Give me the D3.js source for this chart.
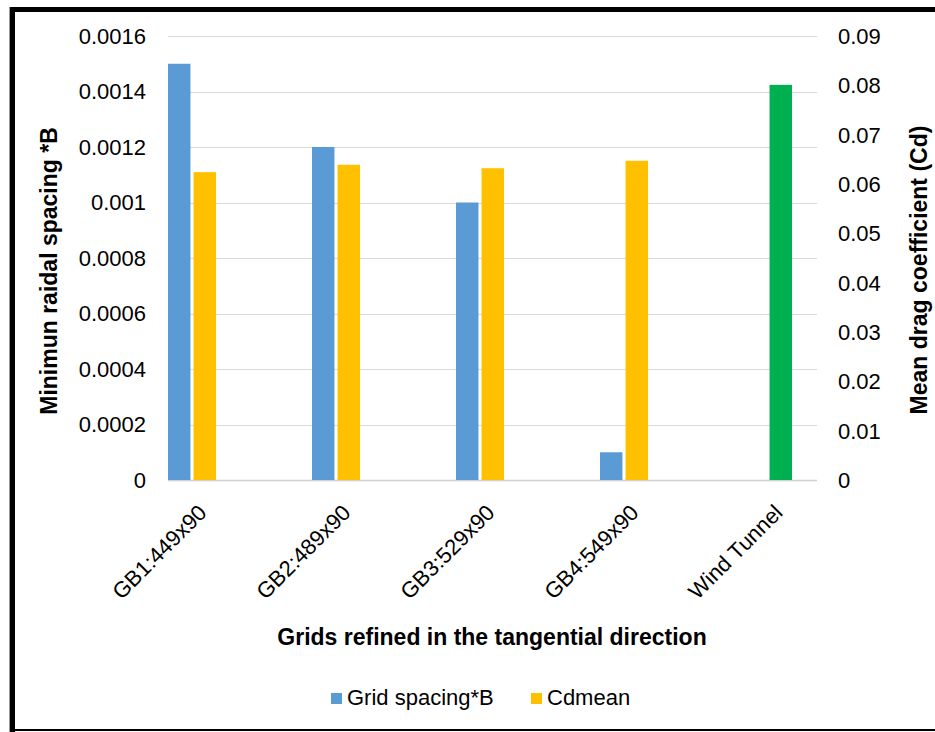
<!DOCTYPE html>
<html>
<head>
<meta charset="utf-8">
<script src="https://cdn.jsdelivr.net/npm/d3@7"></script>
<style>
  html, body { margin: 0; padding: 0; background: #fff; }
  svg { display: block; font-family: "Liberation Sans", Arial, sans-serif; }
</style>
</head>
<body>
<svg id="chart" width="935" height="732"></svg>
<script>
// ---- data ----
const categories = ["GB1:449x90", "GB2:489x90", "GB3:529x90", "GB4:549x90", "Wind Tunnel"];
const gridSpacing = [0.0015, 0.0012, 0.001, 0.0001, null];
const cdMean = [0.0624, 0.0639, 0.0632, 0.0647, 0.0801];
const leftTicks = [0, 0.0002, 0.0004, 0.0006, 0.0008, 0.001, 0.0012, 0.0014, 0.0016];
const leftTickLabels = ["0", "0.0002", "0.0004", "0.0006", "0.0008", "0.001", "0.0012", "0.0014", "0.0016"];
const rightTicks = [0, 0.01, 0.02, 0.03, 0.04, 0.05, 0.06, 0.07, 0.08, 0.09];
const rightTickLabels = ["0", "0.01", "0.02", "0.03", "0.04", "0.05", "0.06", "0.07", "0.08", "0.09"];
const seriesNames = ["Grid spacing*B", "Cdmean"];
const seriesColors = ["#5B9BD5", "#FFC000"];
const highlightColor = "#00B050"; // Wind Tunnel bar

// ---- layout ----
const svg = d3.select("#chart");
const plotLeft = 168, plotRight = 817, plotTop = 36, plotBottom = 480;

const x = d3.scaleBand().domain(categories).range([119, 839]).padding(0);
const xSub = d3.scaleBand().domain(["a", "b"]).range([0, 48]).paddingInner(0.12);
const yL = d3.scaleLinear().domain([0, 0.0016]).range([plotBottom, plotTop]);
const yR = d3.scaleLinear().domain([0, 0.09]).range([plotBottom, plotTop]);
const center = c => x(c) + x.bandwidth() / 2;

// frame
svg.append("line").attr("x1", 9.5).attr("x2", 9.5).attr("y1", 7).attr("y2", 732).attr("stroke", "#999").attr("stroke-width", 1);
svg.append("line").attr("x1", 12.5).attr("x2", 12.5).attr("y1", 7).attr("y2", 732).attr("stroke", "#000").attr("stroke-width", 5);
svg.append("line").attr("x1", 10).attr("x2", 935).attr("y1", 9.5).attr("y2", 9.5).attr("stroke", "#000").attr("stroke-width", 5);
svg.append("line").attr("x1", 13).attr("x2", 935).attr("y1", 730).attr("y2", 730).attr("stroke", "#000").attr("stroke-width", 2);

// gridlines
svg.append("g").selectAll("line").data(leftTicks).join("line")
  .attr("x1", plotLeft).attr("x2", plotRight)
  .attr("y1", d => Math.round(yL(d)) + 0.5).attr("y2", d => Math.round(yL(d)) + 0.5)
  .attr("stroke", d => d === 0 ? "#d0d0d0" : "#d9d9d9").attr("stroke-width", d => d === 0 ? 1.5 : 1);

// left axis labels
svg.append("g").selectAll("text").data(leftTicks).join("text")
  .attr("x", 146).attr("y", d => yL(d)).attr("dy", "0.36em")
  .attr("text-anchor", "end").attr("font-size", 22).attr("fill", "#000")
  .text((d, i) => leftTickLabels[i]);

// right axis labels
svg.append("g").selectAll("text").data(rightTicks).join("text")
  .attr("x", 838).attr("y", d => yR(d)).attr("dy", "0.36em")
  .attr("text-anchor", "start").attr("font-size", 22).attr("fill", "#000")
  .text((d, i) => rightTickLabels[i]);

// bars: grid spacing (left axis)
svg.append("g").selectAll("rect")
  .data(categories.map((c, i) => ({ c, v: gridSpacing[i] })).filter(d => d.v != null))
  .join("rect")
  .attr("x", d => center(d.c) - 23 + xSub("a"))
  .attr("width", xSub.bandwidth())
  .attr("y", d => yL(d.v))
  .attr("height", d => yL(0) - yL(d.v))
  .attr("fill", seriesColors[0]);

// bars: Cdmean (right axis)
svg.append("g").selectAll("rect")
  .data(categories.map((c, i) => ({ c, v: cdMean[i] })))
  .join("rect")
  .attr("x", d => center(d.c) - 23 + xSub("b"))
  .attr("width", xSub.bandwidth())
  .attr("y", d => yR(d.v))
  .attr("height", d => yR(0) - yR(d.v))
  .attr("fill", d => d.c === "Wind Tunnel" ? highlightColor : seriesColors[1]);

// category labels
svg.append("g").selectAll("text").data(categories).join("text")
  .attr("transform", c => `translate(${center(c) + 17},514) rotate(-45)`)
  .attr("text-anchor", "end").attr("font-size", 22).attr("fill", "#000")
  .text(c => c);

// axis titles
svg.append("text")
  .attr("transform", "translate(57,271) rotate(-90)")
  .attr("text-anchor", "middle").attr("font-size", 23).attr("font-weight", "bold")
  .text("Minimun raidal spacing *B");
svg.append("text")
  .attr("transform", "translate(927,270) rotate(-90)")
  .attr("text-anchor", "middle").attr("font-size", 23).attr("font-weight", "bold")
  .text("Mean drag coefficient (Cd)");
svg.append("text")
  .attr("x", 492).attr("y", 645)
  .attr("text-anchor", "middle").attr("font-size", 23).attr("font-weight", "bold")
  .text("Grids refined in the tangential direction");

// legend
const legendX = [331, 531];
const lg = svg.append("g").selectAll("g").data(seriesNames).join("g")
  .attr("transform", (d, i) => `translate(${legendX[i]},693)`);
lg.append("rect").attr("width", 11).attr("height", 11).attr("fill", (d, i) => seriesColors[i]);
lg.append("text").attr("x", 16).attr("y", 12).attr("font-size", 22).attr("fill", "#000").text(d => d);
</script>
</body>
</html>
